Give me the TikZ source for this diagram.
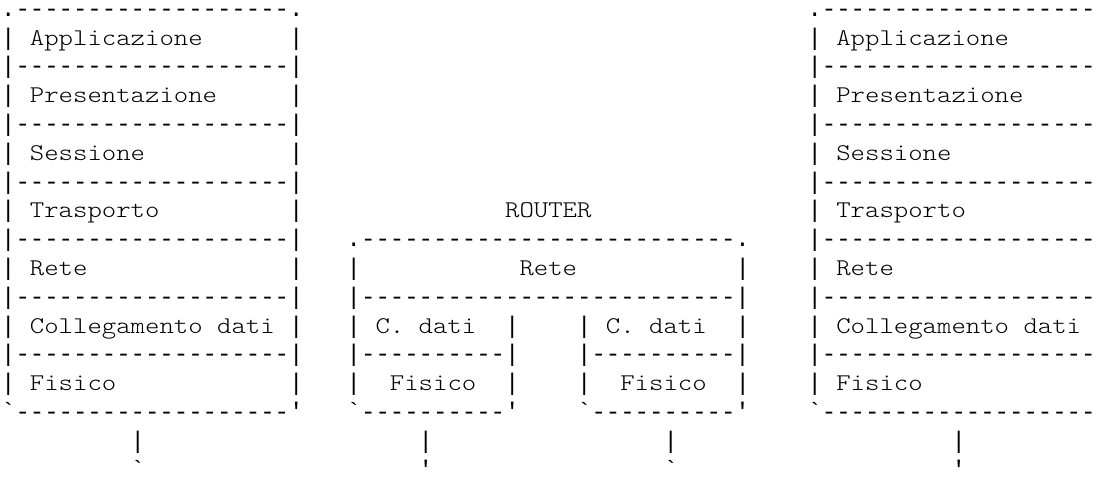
\documentclass[tikz,border=0pt]{standalone}
\usepackage{fontspec}
\setmonofont{lmmonolt10-regular.otf}[FakeStretch=1.143]
\newfontfamily\pf{Liberation Mono}
\newcommand\vb{{\pf|}}
\begin{document}
\begin{tikzpicture}[x=0.5pt,y=-0.5pt,
  ln/.style={anchor=base west,inner sep=0pt,outer sep=0pt,
    font=\ttfamily\fontsize{12}{14.4}\selectfont,text=black}]
\useasboundingbox (0,0) rectangle (1100,477);
\fill[white] (0,0) rectangle (1100,477);
\clip (0,0) rectangle (1100,477);
% ---------- left host stack (col 0) ----------
\node[ln] (L0)  at (1.1,16.2)  {\pf.-------------------.};
\node[ln] (L1)  at (1.1,45.0)  {\vb~Applicazione~~~~~~\vb};
\node[ln] (L2)  at (1.1,73.8)  {\pf|-------------------|};
\node[ln] (L3)  at (1.1,102.6) {\vb~Presentazione~~~~~\vb};
\node[ln] (L4)  at (1.1,131.4) {\pf|-------------------|};
\node[ln] (L5)  at (1.1,160.2) {\vb~Sessione~~~~~~~~~~\vb};
\node[ln] (L6)  at (1.1,189.0) {\pf|-------------------|};
\node[ln] (L7)  at (1.1,217.8) {\vb~Trasporto~~~~~~~~~\vb};
\node[ln] (L8)  at (1.1,246.6) {\pf|-------------------|};
\node[ln] (L9)  at (1.1,275.4) {\vb~Rete~~~~~~~~~~~~~~\vb};
\node[ln] (L10) at (1.1,304.2) {\pf|-------------------|};
\node[ln] (L11) at (1.1,333.0) {\vb~Collegamento~dati~\vb};
\node[ln] (L12) at (1.1,361.8) {\pf|-------------------|};
\node[ln] (L13) at (1.1,390.6) {\vb~Fisico~~~~~~~~~~~~\vb};
\node[ln] (L14) at (1.1,419.4) {\pf`-------------------'};
% ---------- right host stack (col 56) ----------
\node[ln] (R0)  at (807.5,16.2)  {\pf.-------------------.};
\node[ln] (R1)  at (807.5,45.0)  {\vb~Applicazione~~~~~~\vb};
\node[ln] (R2)  at (807.5,73.8)  {\pf|-------------------|};
\node[ln] (R3)  at (807.5,102.6) {\vb~Presentazione~~~~~\vb};
\node[ln] (R4)  at (807.5,131.4) {\pf|-------------------|};
\node[ln] (R5)  at (807.5,160.2) {\vb~Sessione~~~~~~~~~~\vb};
\node[ln] (R6)  at (807.5,189.0) {\pf|-------------------|};
\node[ln] (R7)  at (807.5,217.8) {\vb~Trasporto~~~~~~~~~\vb};
\node[ln] (R8)  at (807.5,246.6) {\pf|-------------------|};
\node[ln] (R9)  at (807.5,275.4) {\vb~Rete~~~~~~~~~~~~~~\vb};
\node[ln] (R10) at (807.5,304.2) {\pf|-------------------|};
\node[ln] (R11) at (807.5,333.0) {\vb~Collegamento~dati~\vb};
\node[ln] (R12) at (807.5,361.8) {\pf|-------------------|};
\node[ln] (R13) at (807.5,390.6) {\vb~Fisico~~~~~~~~~~~~\vb};
\node[ln] (R14) at (807.5,419.4) {\pf`-------------------'};
% ---------- router (col 24) ----------
\node[ln] (RT)  at (505.1,217.8) {ROUTER};
\node[ln] (T8)  at (346.7,246.6) {\pf.--------------------------.};
\node[ln] (T9)  at (346.7,275.4) {\vb~~~~~~~~~~~Rete~~~~~~~~~~~\vb};
\node[ln] (T10) at (346.7,304.2) {\pf|--------------------------|};
\node[ln] (T11) at (346.7,333.0) {\vb~C.~dati~~\vb~~~~\vb~C.~dati~~\vb};
\node[ln] (T12) at (346.7,361.8) {\pf|----------|~~~~|----------|};
\node[ln] (T13) at (346.7,390.6) {\vb~~Fisico~~\vb~~~~\vb~~Fisico~~\vb};
\node[ln] (T14) at (346.7,419.4) {\pf`----------'~~~~`----------'};
% ---------- wires ----------
\node[ln] (W1a) at (130.7,448.2) {\vb};
\node[ln] (W1b) at (130.7,477.0) {\pf`};
\node[ln] (W2a) at (418.7,448.2) {\vb};
\node[ln] (W2b) at (418.7,477.0) {\pf'};
\node[ln] (W3a) at (663.5,448.2) {\vb};
\node[ln] (W3b) at (663.5,477.0) {\pf`};
\node[ln] (W4a) at (951.5,448.2) {\vb};
\node[ln] (W4b) at (951.5,477.0) {\pf'};
\end{tikzpicture}
\end{document}
